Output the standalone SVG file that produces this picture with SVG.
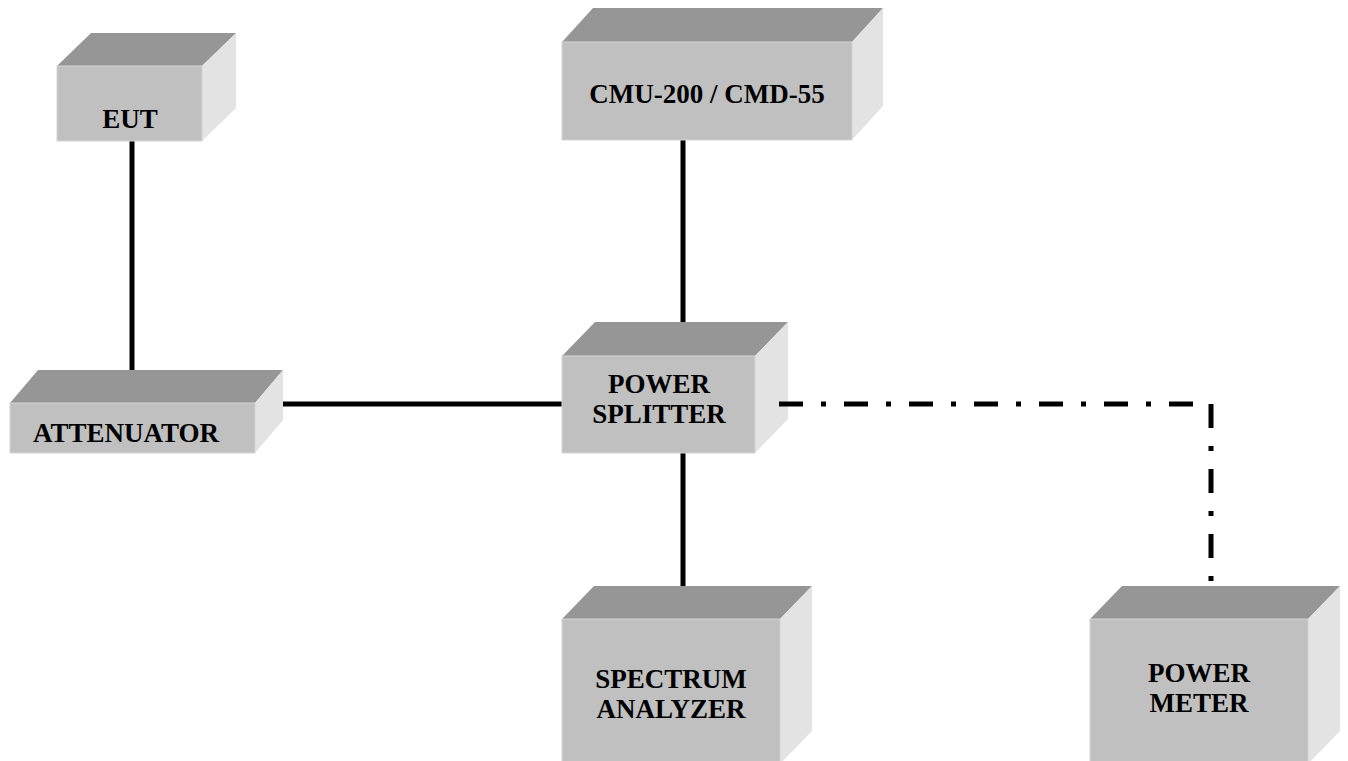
<svg xmlns="http://www.w3.org/2000/svg" width="1348" height="761" viewBox="0 0 1348 761">
<style>
.top{fill:#969696}
.front{fill:#c0c0c0;stroke:#d4d4d4;stroke-width:1}
.side{fill:#e3e3e3}
.lbl{font-family:"Liberation Serif","Times New Roman",serif;font-weight:bold;font-size:27px;fill:#000;text-anchor:middle}
.wire{stroke:#000;stroke-width:5;fill:none}
.dash{stroke:#000;stroke-width:5;fill:none;stroke-dasharray:24 18 5 18}
</style>
<rect width="1348" height="761" fill="#fff"/>
<g id="connectors">
<line class="wire" x1="132" y1="141" x2="132" y2="379"/>
<line class="wire" x1="683" y1="140" x2="683" y2="332"/>
<line class="wire" x1="276" y1="404" x2="562" y2="404"/>
<line class="wire" x1="683" y1="453" x2="683" y2="595"/>
</g>
<g id="eut">
<polygon class="top" points="57,66 91,33 236,33 202,66"/>
<polygon class="side" points="202,66 236,33 236,108 202,141"/>
<rect class="front" x="57" y="66" width="145" height="75"/>
<text class="lbl" x="130" y="128">EUT</text>
</g>
<g id="cmu">
<polygon class="top" points="562,42 593,8 883,8 852,42"/>
<polygon class="side" points="852,42 883,8 883,106 852,140"/>
<rect class="front" x="562" y="42" width="290" height="98"/>
<text class="lbl" x="707" y="103">CMU-200 / CMD-55</text>
</g>
<g id="attenuator">
<polygon class="top" points="10,403 38,370 283,370 255,403"/>
<polygon class="side" points="255,403 283,370 283,420 255,453"/>
<rect class="front" x="10" y="403" width="245" height="50"/>
<text class="lbl" x="126" y="442">ATTENUATOR</text>
</g>
<g id="splitter">
<polygon class="top" points="562,356 595,322 788,322 755,356"/>
<polygon class="side" points="755,356 788,322 788,419 755,453"/>
<rect class="front" x="562" y="356" width="193" height="97"/>
<text class="lbl" x="659" y="393">POWER</text>
<text class="lbl" x="659" y="423">SPLITTER</text>
</g>
<g id="analyzer">
<polygon class="top" points="562,619 594,586 812,586 780,619"/>
<polygon class="side" points="780,619 812,586 812,731 780,764"/>
<rect class="front" x="562" y="619" width="218" height="145"/>
<text class="lbl" x="671" y="688">SPECTRUM</text>
<text class="lbl" x="671" y="718">ANALYZER</text>
</g>
<g id="powermeter">
<polygon class="top" points="1090,619 1122,586 1340,586 1308,619"/>
<polygon class="side" points="1308,619 1340,586 1340,731 1308,764"/>
<rect class="front" x="1090" y="619" width="218" height="145"/>
<text class="lbl" x="1199" y="682">POWER</text>
<text class="lbl" x="1199" y="712">METER</text>
</g>
<g id="connectors-dashed">
<line class="dash" x1="779" y1="404" x2="1211" y2="404"/>
<line class="dash" x1="1211" y1="404" x2="1211" y2="582"/>
</g>
</svg>
